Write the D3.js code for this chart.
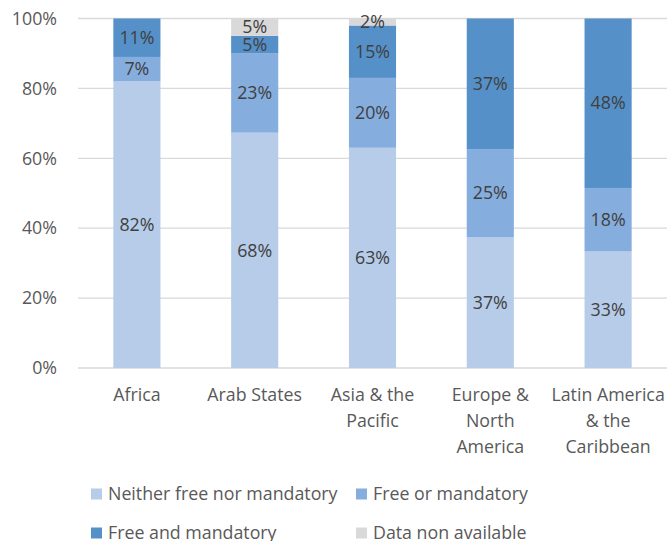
<!DOCTYPE html>
<html>
<head>
<meta charset="utf-8">
<script src="https://cdn.jsdelivr.net/npm/d3@7"></script>
<style>
  body { margin: 0; background: #fff; }
  text { font-family: "Open Sans", Lato, sans-serif; }
</style>
</head>
<body>
<div id="chart"></div>
<script>
// regions and the four series (percent, as labelled)
var regions = ["Africa", "Arab States", "Asia & the Pacific", "Europe & North America", "Latin America & the Caribbean"];
var regionLines = [["Africa"], ["Arab States"], ["Asia & the", "Pacific"], ["Europe &", "North", "America"], ["Latin America", "& the", "Caribbean"]];
var seriesNames = ["Neither free nor mandatory", "Free or mandatory", "Free and mandatory", "Data non available"];
var neither   = [82, 68, 63, 37, 33];
var freeOr    = [7, 23, 20, 25, 18];
var freeAnd   = [11, 5, 15, 37, 48];
var noData    = [0, 5, 2, 0, 0];
var yTicks = [0, 20, 40, 60, 80, 100];
var colors = ["#b6cce9", "#85aede", "#5590c8", "#d9d9d9"];

var width = 667, height = 541;
var margin = {left: 78, right: 0, top: 18.5, bottom: 173};
var fs = "17.8px";

var svg = d3.select("#chart").append("svg")
  .attr("width", width)
  .attr("height", height);

var x = d3.scaleBand()
  .domain(regions)
  .range([margin.left, width - margin.right])
  .paddingInner(0.6)
  .paddingOuter(0.3);

var y = d3.scaleLinear()
  .domain([0, 100])
  .range([height - margin.bottom, margin.top]);

// gridlines
svg.append("g")
  .selectAll("line")
  .data(yTicks)
  .enter()
  .append("line")
    .attr("x1", margin.left)
    .attr("x2", width)
    .attr("y1", function(d) { return y(d); })
    .attr("y2", function(d) { return y(d); })
    .attr("stroke", "#d9d9d9")
    .attr("stroke-width", 1.3);

// y tick labels
svg.append("g")
  .selectAll("text")
  .data(yTicks)
  .enter()
  .append("text")
    .attr("x", 57)
    .attr("y", function(d) { return y(d); })
    .attr("dy", "0.35em")
    .attr("text-anchor", "end")
    .style("font-size", fs)
    .style("fill", "#595959")
    .text(function(d) { return d + "%"; });

// build stacked rows, normalised to 100 like a 100% stacked chart
var table = regions.map(function(r, i) {
  var vals = [neither[i], freeOr[i], freeAnd[i], noData[i]];
  var total = d3.sum(vals);
  var row = {region: r};
  seriesNames.forEach(function(s, j) { row[s] = vals[j] * 100 / total; row[s + "_lbl"] = vals[j]; });
  return row;
});
var stacked = d3.stack().keys(seriesNames)(table);

var layer = svg.selectAll("g.layer")
  .data(stacked)
  .enter()
  .append("g")
    .attr("class", "layer")
    .attr("fill", function(d, i) { return colors[i]; });

layer.selectAll("rect")
  .data(function(d) { return d; })
  .enter()
  .append("rect")
    .attr("x", function(d) { return x(d.data.region); })
    .attr("width", x.bandwidth())
    .attr("y", function(d) { return y(d[1]); })
    .attr("height", function(d) { return y(d[0]) - y(d[1]); });

// data labels
stacked.forEach(function(s) {
  svg.append("g")
    .selectAll("text")
    .data(s.filter(function(d) { return d.data[s.key + "_lbl"] > 0; }))
    .enter()
    .append("text")
      .attr("x", function(d) { return x(d.data.region) + x.bandwidth() / 2; })
      .attr("y", function(d) { return y((d[0] + d[1]) / 2); })
      .attr("dy", "0.35em")
      .attr("text-anchor", "middle")
      .style("font-size", fs)
      .style("fill", "#404040")
      .text(function(d) { return d.data[s.key + "_lbl"] + "%"; });
});

// category labels
regions.forEach(function(r, i) {
  var t = svg.append("text")
    .attr("text-anchor", "middle")
    .attr("x", x(r) + x.bandwidth() / 2)
    .attr("y", 401)
    .style("font-size", fs)
    .style("fill", "#595959");
  regionLines[i].forEach(function(line, k) {
    t.append("tspan")
      .attr("x", x(r) + x.bandwidth() / 2)
      .attr("y", 401 + k * 26)
      .text(line);
  });
});

// legend
var legendPos = [[91, 494], [356, 494], [91, 533], [356, 533]];
var legend = svg.append("g");
seriesNames.forEach(function(s, i) {
  legend.append("rect")
    .attr("x", legendPos[i][0])
    .attr("y", legendPos[i][1] - 5.5)
    .attr("width", 11)
    .attr("height", 11)
    .attr("fill", colors[i]);
  legend.append("text")
    .attr("x", legendPos[i][0] + 17)
    .attr("y", legendPos[i][1])
    .attr("dy", "0.35em")
    .style("font-size", fs)
    .style("fill", "#595959")
    .text(s);
});
</script>
</body>
</html>
